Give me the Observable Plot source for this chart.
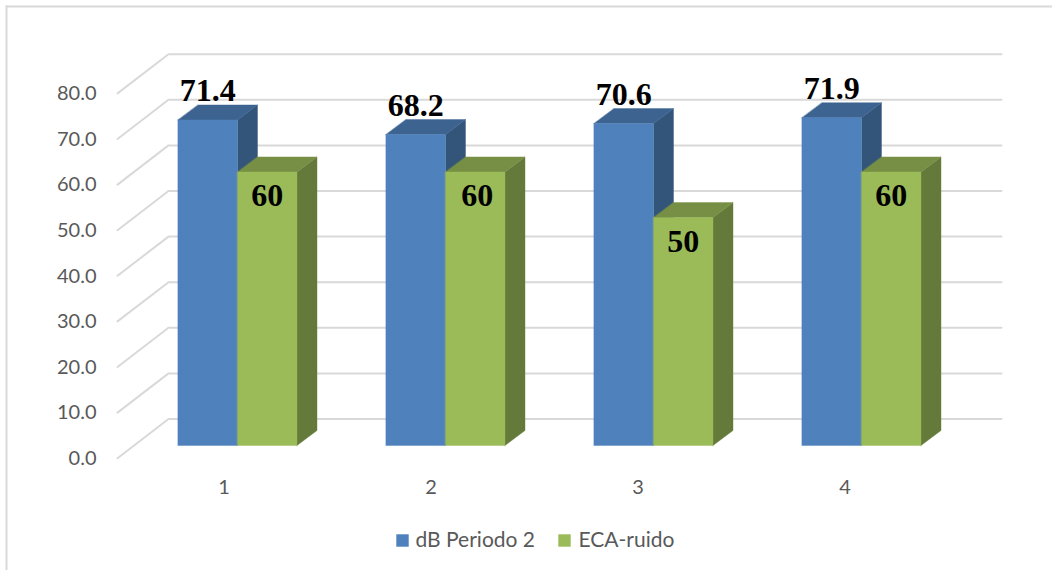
<!DOCTYPE html>
<html><head><meta charset="utf-8">
<script src="https://cdn.jsdelivr.net/npm/d3@7"></script>
<script src="https://cdn.jsdelivr.net/npm/@observablehq/plot@0.6"></script>
<style>html,body{margin:0;padding:0;background:#fff}svg{display:block}</style>
</head><body><div id="c"></div>
<script>
const categories = [1, 2, 3, 4];
const periodo = [71.4, 68.2, 70.6, 71.9];
const eca = [60, 60, 50, 60];
const periodoLabels = ["71.4", "68.2", "70.6", "71.9"];
const ecaLabels = ["60", "60", "50", "60"];
const yTicks = [0, 10, 20, 30, 40, 50, 60, 70, 80];
const seriesNames = ["dB Periodo 2", "ECA-ruido"];

// scale geometry (pixels per unit on each axis)
const W = 1052, H = 570;
const pxX = 208, pxY = 4.56;
const x0px = 237 - pxX, y0px = 445; // pixel of x=0 and y=0
const barW = 59.5 / pxX, depX = 20 / pxX, depY = 15 / pxY;
const wallFrontX = 1 + (117 - 237) / pxX, wallBackX = 1 + (168 - 237) / pxX, wallEndX = 1 + (1001 - 237) / pxX;
const wallFrontY = -12.7 / pxY, wallBackY = 26.5 / pxY;

const grid = yTicks.flatMap(v => [
  {z: v, x: wallFrontX, y: v + wallFrontY},
  {z: v, x: wallBackX, y: v + wallBackY},
  {z: v, x: wallEndX, y: v + wallBackY}
]);

function faces(vals, offset) {
  const front = [], top = [], side = [];
  categories.forEach((c, i) => {
    const l = c + offset, r = l + barW, v = vals[i];
    front.push({z: c, x: l, y: 0}, {z: c, x: r, y: 0}, {z: c, x: r, y: v}, {z: c, x: l, y: v});
    top.push({z: c, x: l, y: v}, {z: c, x: r, y: v}, {z: c, x: r + depX, y: v + depY}, {z: c, x: l + depX, y: v + depY});
    side.push({z: c, x: r, y: 0}, {z: c, x: r + depX, y: depY}, {z: c, x: r + depX, y: v + depY}, {z: c, x: r, y: v});
  });
  return {front, top, side};
}
const face = (pts, fill) => Plot.line(pts, {x: "x", y: "y", z: "z", fill, stroke: fill, strokeWidth: 0.4, curve: "linear-closed"});

const blue = faces(periodo, -barW);
const green = faces(eca, 0);
const tickFont = "Lato, 'Open Sans', sans-serif";
const ecaShift = [0, 2 / pxX, 0, 0];

const plot = Plot.plot({
  width: W, height: H,
  marginLeft: 6, marginTop: 6, marginRight: 0, marginBottom: 0,
  x: {domain: [(6 - x0px) / pxX, (W - x0px) / pxX], axis: null},
  y: {domain: [(y0px - H) / pxY, (y0px - 6) / pxY], axis: null},
  style: {background: "#fff"},
  marks: [
    Plot.frame({anchor: "left", stroke: "#d9d9d9", strokeWidth: 2}),
    Plot.frame({anchor: "top", stroke: "#d9d9d9", strokeWidth: 2}),
    Plot.line(grid, {x: "x", y: "y", z: "z", stroke: "#d9d9d9", strokeWidth: 2}),
    face(blue.side, "#325579"), face(blue.top, "#3d6391"), face(blue.front, "#4f81bd"),
    face(green.side, "#647a3a"), face(green.top, "#778f45"), face(green.front, "#9bbb59"),
    Plot.text(yTicks, {x: () => wallFrontX, y: d => d, text: d => d.toFixed(1), dx: -21, dy: 13, textAnchor: "end",
      fontFamily: tickFont, fontSize: 20, letterSpacing: 0.5, fill: "#595959"}),
    Plot.text(categories, {x: d => d - (d - 1) / pxX, y: () => 0, text: d => String(d), dx: -13.5, dy: 42, fontFamily: tickFont, fontSize: 20, fill: "#595959"}),
    Plot.text(categories, {x: d => d - barW / 2, y: (d, i) => periodo[i], text: (d, i) => periodoLabels[i], dy: -29, fontFamily: "'Liberation Serif', serif",
      fontWeight: "bold", fontSize: 32, fill: "#000"}),
    Plot.text(categories, {x: (d, i) => d + barW / 2 + ecaShift[i], y: (d, i) => eca[i], text: (d, i) => ecaLabels[i], dy: 24, fontFamily: "'Liberation Serif', serif",
      fontWeight: "bold", fontSize: 32, fill: "#000"}),
    Plot.dot([0], {frameAnchor: "top-left", dx: 396, dy: 534, symbol: "square", r: 7, fill: "#4f81bd"}),
    Plot.dot([0], {frameAnchor: "top-left", dx: 558, dy: 534, symbol: "square", r: 7, fill: "#9bbb59"}),
    Plot.text([seriesNames[0]], {frameAnchor: "top-left", lineAnchor: "middle", dx: 409, dy: 534, text: d => d, textAnchor: "start", fontFamily: tickFont, fontSize: 21, letterSpacing: 0.9, fill: "#595959"}),
    Plot.text([seriesNames[1]], {frameAnchor: "top-left", lineAnchor: "middle", dx: 572, dy: 534, text: d => d, textAnchor: "start", fontFamily: tickFont, fontSize: 21, letterSpacing: 0.15, fill: "#595959"})
  ]
});
document.getElementById("c").appendChild(plot);
</script></body></html>
